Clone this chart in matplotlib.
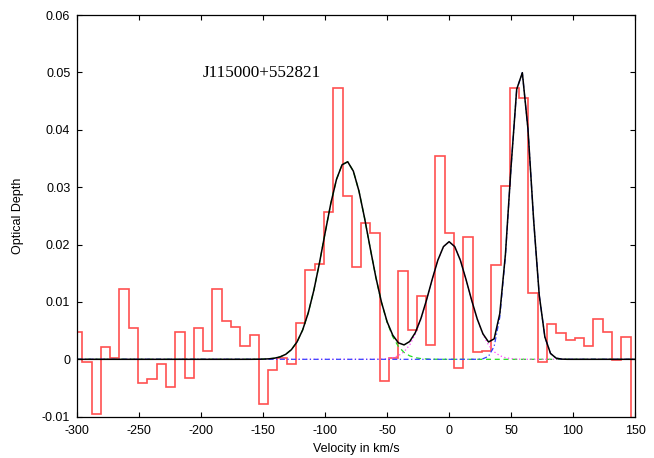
import numpy as np
import matplotlib
matplotlib.use("Agg")
import matplotlib.pyplot as plt

# ---- data ----
bin_start = -303.5
bin_width = 7.5
tau = [0.0047, -0.0004, -0.0095, 0.0021, 0.0002, 0.0122, 0.0054, -0.0042, -0.0034, -0.0009,
       -0.0048, 0.0047, -0.0032, 0.0054, 0.0015, 0.0122, 0.0067, 0.0056, 0.0023, 0.0042,
       -0.0077, -0.0019, 0.0002, -0.0008, 0.0063, 0.0155, 0.0166, 0.0257, 0.0473, 0.0284,
       0.0161, 0.0237, 0.0220, -0.0037, 0.0002, 0.0154, 0.0051, 0.0110, 0.0025, 0.0354,
       0.0220, -0.0016, 0.0214, 0.0012, 0.0015, 0.0165, 0.0302, 0.0472, 0.0455, 0.0115,
       -0.0004, 0.0061, 0.0046, 0.0034, 0.0038, 0.0024, 0.0070, 0.0047, -0.0002, 0.0039,
       -0.0300]

# Gaussian fit components
amps = [0.0345, 0.0205, 0.0505]
centers = [-83.0, 0.0, 57.8]
sigmas = [18.0, 15.5, 8.6]
comp_colors = ['#22dd22', '#ff44ff', '#3344ff']
comp_styles = [(0, (4, 3)), (0, (1, 2)), (0, (4, 2, 1, 2))]

xticks = [-300, -250, -200, -150, -100, -50, 0, 50, 100, 150]
xticklabels = ['-300', '-250', '-200', '-150', '-100', '-50', '0', '50', '100', '150']
yticks = [-0.01, 0.0, 0.01, 0.02, 0.03, 0.04, 0.05, 0.06]
yticklabels = ['-0.01', '0', '0.01', '0.02', '0.03', '0.04', '0.05', '0.06']

source_name = "J115000+552821"

# ---- figure ----
W, H = 654, 458
fig = plt.figure(figsize=(W / 100, H / 100), dpi=100)
ax = fig.add_axes([77.3 / W, 1 - 416.7 / H, (635 - 77.3) / W, (416.7 - 15) / H])

edges = bin_start + bin_width * np.arange(len(tau) + 1)
ax.stairs(tau, edges, color='#ff5050', lw=1.2, baseline=None)

vs = np.linspace(-300, 150, 100)
total = np.zeros_like(vs)
for a, m, s, c, ls in zip(amps, centers, sigmas, comp_colors, comp_styles):
    g = a * np.exp(-(vs - m) ** 2 / (2 * s ** 2))
    total += g
    ax.plot(vs, g, color=c, lw=0.9, ls=ls)
ax.plot(vs, total, color='black', lw=1.1)

ax.set_xlim(-300, 150)
ax.set_ylim(-0.01, 0.06)
ax.set_xticks(xticks)
ax.set_xticklabels(xticklabels)
ax.set_yticks(yticks)
ax.set_yticklabels(yticklabels)

tick_font = dict(family=['Liberation Sans', 'DejaVu Sans'], size=9)
for lab in ax.get_xticklabels() + ax.get_yticklabels():
    lab.set_fontfamily(tick_font['family'])
    lab.set_fontsize(tick_font['size'])

ax.tick_params(direction='in', length=3.6, width=0.8, top=True, right=True, color='black')
ax.tick_params(axis='x', pad=6)
ax.tick_params(axis='y', pad=5)
for sp in ax.spines.values():
    sp.set_linewidth(0.9)

ax.text(-199, 0.0492, source_name, family=['Liberation Serif', 'DejaVu Serif'],
        fontsize=12.3, ha='left', va='baseline')

fig.text(356 / W, (H - 451.7) / H, "Velocity in km/s", ha='center', va='baseline',
         family=['Liberation Sans', 'DejaVu Sans'], fontsize=9)
fig.text(18 / W, 1 - 216 / H, "Optical Depth", ha='center', va='center', rotation=90,
         family=['Liberation Sans', 'DejaVu Sans'], fontsize=9)

fig.savefig("out.png", dpi=100)
